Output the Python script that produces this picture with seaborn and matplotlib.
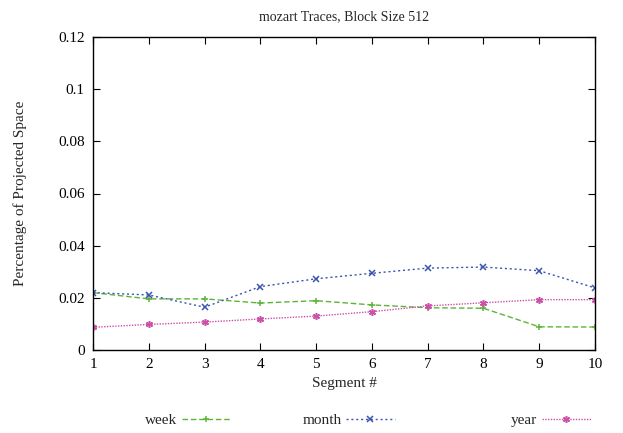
import matplotlib
matplotlib.use("Agg")
import matplotlib.pyplot as plt
import seaborn as sns
import pandas as pd
import numpy as np
from matplotlib.ticker import FuncFormatter

segments = [1, 2, 3, 4, 5, 6, 7, 8, 9, 10]
week = [0.0220, 0.0196, 0.0196, 0.0180, 0.0189, 0.0173, 0.0162, 0.0160, 0.0089, 0.0088]
month = [0.0220, 0.0211, 0.0164, 0.0243, 0.0273, 0.0294, 0.0314, 0.0318, 0.0304, 0.0238]
year = [0.0087, 0.0098, 0.0107, 0.0119, 0.0130, 0.0147, 0.0169, 0.0181, 0.0193, 0.0193]
series_names = ["week", "month", "year"]
yticks = [0, 0.02, 0.04, 0.06, 0.08, 0.1, 0.12]

df = pd.concat([
    pd.DataFrame({"Segment": segments, "value": vals, "series": name})
    for name, vals in zip(series_names, [week, month, year])
])

sns.set_theme(style="ticks")
plt.rcParams["font.family"] = ["Liberation Serif", "DejaVu Serif"]

fig = plt.figure(figsize=(6.23, 4.33), dpi=100)
ax = fig.add_axes([93/623, 1-350/433, (595-93)/623, (350-37)/433])

colors = {"week": "#5db43a", "month": "#3b55b0", "year": "#cc4fa8"}
styles = {"week": (0, (4, 2)), "month": (0, (1.5, 2)), "year": (0, (1, 1))}
markers = {"week": "+", "month": "x", "year": (6, 2, 0)}

handles = []
for name in series_names:
    sub = df[df["series"] == name]
    sns.lineplot(data=sub, x="Segment", y="value", ax=ax, color=colors[name],
                 linestyle=styles[name], marker=markers[name], markersize=5,
                 markeredgewidth=1.1, markeredgecolor=colors[name],
                 markerfacecolor=colors[name],
                 linewidth=1.0, label=name, legend=False)
    handles.append(ax.lines[-1])

ax.set_xlim(1, 10)
ax.set_ylim(0, 0.12)
ax.set_xticks(segments)
ax.set_yticks(yticks)
ax.yaxis.set_major_formatter(FuncFormatter(lambda v, p: f"{v:g}"))
ax.tick_params(direction="in", length=5, width=0.8, top=True, right=True,
               labelsize=11, colors="black", pad=6)
for s in ax.spines.values():
    s.set_visible(True)
    s.set_linewidth(1.0)
    s.set_color("black")
ax.set_xlabel("Segment #", fontsize=11, labelpad=4)
ax.set_ylabel("Percentage of Projected Space", fontsize=11, labelpad=22)
ax.set_title("mozart Traces, Block Size 512", fontsize=10, pad=12)

# legend entries: label then sample, positioned like the original
right_edges = [232, 396, 592]
for h, name, xr in zip(handles, series_names, right_edges):
    fig.legend([h], [name], loc="center right",
               bbox_to_anchor=(xr/623 + 0.008, 1-420/433), frameon=False,
               markerfirst=False, handlelength=3.2, fontsize=11,
               handletextpad=0.3, borderaxespad=0)

fig.savefig("out.png", dpi=100)
